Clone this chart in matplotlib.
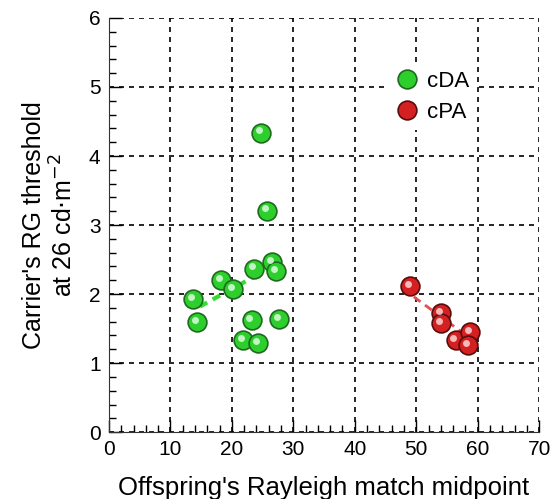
import numpy as np
import matplotlib.pyplot as plt
from matplotlib.ticker import MultipleLocator

plt.rcParams['font.family'] = ['Liberation Sans', 'DejaVu Sans']

# cDA carriers
cda_x = [13.7, 14.3, 18.2, 20.2, 23.6, 26.6, 27.2, 23.2, 27.7, 21.8, 24.3, 25.7, 24.8]
cda_y = [1.93, 1.60, 2.21, 2.07, 2.37, 2.47, 2.34, 1.63, 1.64, 1.33, 1.29, 3.21, 4.34]
# cPA carriers
cpa_x = [49.0, 54.0, 54.0, 56.4, 58.7, 58.5]
cpa_y = [2.11, 1.72, 1.58, 1.34, 1.45, 1.26]

# dashed trend lines (x range)
cda_fit_x = [14.8, 24.6]
cda_fit_y = [1.82, 2.30]
cpa_fit_x = [49.6, 57.7]
cpa_fit_y = [1.96, 1.43]

fig = plt.figure(figsize=(5.53, 4.99), dpi=100)
ax = fig.add_axes([0.197, 0.134, 0.778, 0.830])


def sphere(x, y, face, edge, light, label=None):
    ax.plot(x, y, 'o', ms=13.5, mfc=face, mec=edge, mew=1.2, zorder=4, label=label)
    ax.plot(np.array(x) - 0.35, np.array(y) + 0.03, 'o', ms=5, mfc=light,
            mec='none', alpha=0.8, zorder=5)


ax.plot(cda_fit_x, cda_fit_y, ls=(0, (2, 1.5)), color='#33dd33', lw=3, zorder=3)
ax.plot(cpa_fit_x, cpa_fit_y, ls=(0, (3, 2)), color='#e05050', lw=2, zorder=3)

sphere(cda_x, cda_y, '#2ccf2c', '#1f6a1f', '#e8ffe8', 'cDA')
sphere(cpa_x, cpa_y, '#d42020', '#5a0c0c', '#ffe0e0', 'cPA')

ax.set_xlim(0, 70)
ax.set_ylim(0, 6)
ax.xaxis.set_major_locator(MultipleLocator(10))
ax.xaxis.set_minor_locator(MultipleLocator(2))
ax.yaxis.set_major_locator(MultipleLocator(1))
ax.yaxis.set_minor_locator(MultipleLocator(0.2))
ax.tick_params(which='major', direction='in', length=9, width=1, labelsize=15, pad=6)
ax.tick_params(which='minor', direction='in', length=5, width=1)
ax.grid(True, which='major', ls=(0, (3, 3)), color='black', lw=1.2)
for s in ['top', 'right']:
    ax.spines[s].set_visible(False)
ax.spines['left'].set_color('#333333')
ax.spines['bottom'].set_color('#333333')

ax.set_xlabel("Offspring's Rayleigh match midpoint", fontsize=18.5, labelpad=12)
ax.set_ylabel("Carrier's RG threshold\nat 26 cd$\\cdot$m$^{-2}$", fontsize=18, labelpad=8)

leg = ax.legend(loc='upper left', bbox_to_anchor=(0.62, 0.915), frameon=True,
                fontsize=16, handletextpad=0.3, labelspacing=0.45,
                borderpad=0.3, handlelength=1.2)
leg.get_frame().set_edgecolor('none')
leg.get_frame().set_facecolor('white')
leg.get_frame().set_alpha(1)

fig.savefig('out.png', dpi=100)
